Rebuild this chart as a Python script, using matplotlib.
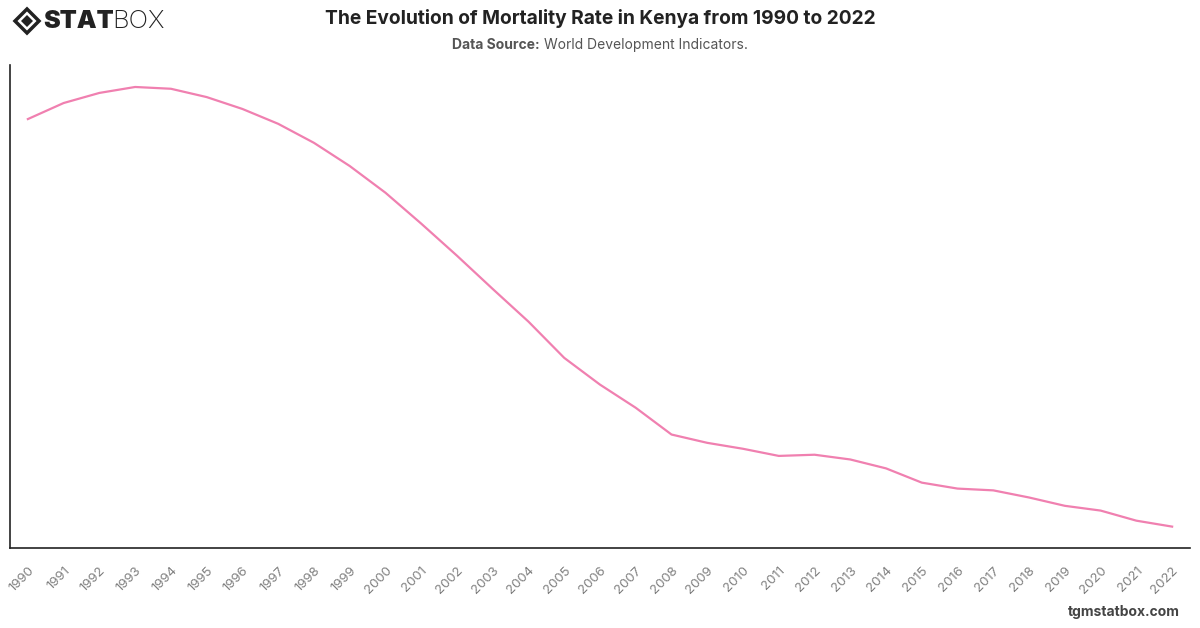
import matplotlib
matplotlib.use('Agg')
import matplotlib.pyplot as plt
from matplotlib.patches import Polygon

# Under-5 mortality rate (per 1,000)
years = list(range(1990, 2023))
mortality = [105.6, 108.3, 110.0, 111.0, 110.7, 109.3, 107.3, 104.8, 101.6, 97.7,
             93.2, 88.0, 82.6, 77.0, 71.5, 65.4, 60.9, 57.0, 52.5, 51.1,
             50.1, 48.9, 49.1, 48.3, 46.8, 44.4, 43.4, 43.1, 41.9, 40.5,
             39.7, 38.0, 37.0]
year_labels = [str(y) for y in years]

plt.rcParams['font.family'] = ['Inter', 'DejaVu Sans']

W, H = 1200, 628
fig = plt.figure(figsize=(W / 100, H / 100), dpi=100)
ax = fig.add_axes([10 / W, (H - 548) / H, 1180 / W, 483 / H])

x = list(range(len(years)))
ax.plot(x, mortality, color='#f080b0', linewidth=1.6)
ax.set_xlim(-0.5, len(years) - 0.5)
ax.set_ylim(33.4, 114.7)

ax.set_xticks(x)
ax.set_xticklabels(year_labels, rotation=45, ha='right', rotation_mode='anchor',
                   fontsize=9.5, color='#808080')
ax.tick_params(axis='x', length=0, pad=12)
ax.set_yticks([])
for s in ['top', 'right']:
    ax.spines[s].set_visible(False)
for s in ['left', 'bottom']:
    ax.spines[s].set_color('#222222')
    ax.spines[s].set_linewidth(1.2)

# title block
fig.text(0.5, 1 - 18 / H, 'The Evolution of Mortality Rate in Kenya from 1990 to 2022',
         ha='center', va='center', fontsize=13.8, fontweight='bold', color='#222222')

# subtitle: bold lead + regular rest, centred as one line
sub_y = 1 - 45 / H
lead = fig.text(0, sub_y, 'Data Source:', ha='left', va='center', fontsize=10,
                fontweight='bold', color='#555555')
rest = fig.text(0, sub_y, 'World Development Indicators.', ha='left', va='center',
                fontsize=10, color='#555555')
renderer = fig.canvas.get_renderer()
w_lead = lead.get_window_extent(renderer).width
w_rest = rest.get_window_extent(renderer).width
gap = 4
start = (W - (w_lead + w_rest + gap)) / 2
lead.set_x(start / W)
rest.set_x((start + w_lead + gap) / W)

# logo
icon = Polygon([[15 / W, 1 - 21 / H], [27 / W, 1 - 9 / H], [39 / W, 1 - 21 / H],
                [27 / W, 1 - 33 / H]], closed=True, transform=fig.transFigure,
               facecolor='none', edgecolor='#222222', linewidth=2.5)
fig.patches.append(icon)
inner = Polygon([[21 / W, 1 - 21 / H], [27 / W, 1 - 15 / H], [33 / W, 1 - 21 / H],
                 [27 / W, 1 - 27 / H]], closed=True, transform=fig.transFigure,
                facecolor='#222222', edgecolor='none')
fig.patches.append(inner)
fig.text(43 / W, 1 - 21 / H, 'STAT', ha='left', va='center', fontsize=18,
         fontweight='black', color='#222222')
fig.text(112 / W, 1 - 21 / H, 'BOX', ha='left', va='center', fontsize=18.5,
         fontweight='light', color='#222222')

# footer
fig.text(1180 / W, 1 - 612 / H, 'tgmstatbox.com', ha='right', va='center',
         fontsize=10, fontweight='bold', color='#444444')

fig.savefig('out.png', dpi=100)
